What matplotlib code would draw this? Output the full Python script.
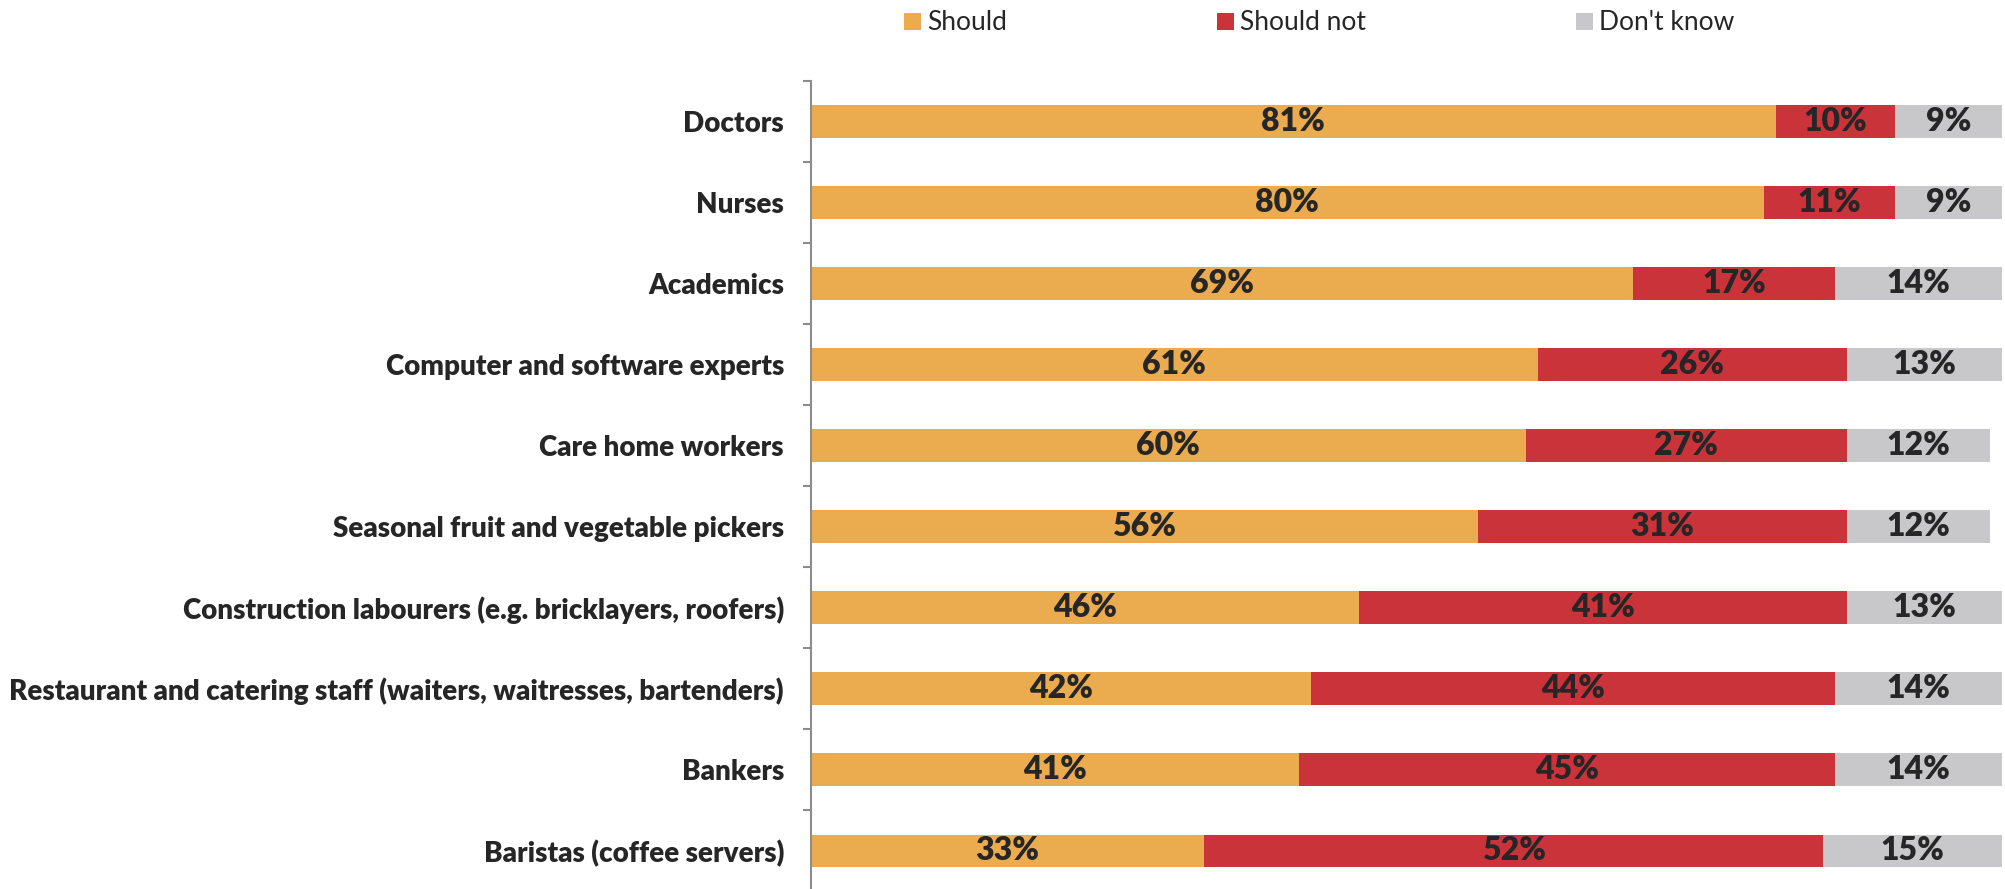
import numpy as np
import matplotlib.pyplot as plt
from matplotlib.patches import Patch

occupations = [
    "Doctors",
    "Nurses",
    "Academics",
    "Computer and software experts",
    "Care home workers",
    "Seasonal fruit and vegetable pickers",
    "Construction labourers (e.g. bricklayers, roofers)",
    "Restaurant and catering staff (waiters, waitresses, bartenders)",
    "Bankers",
    "Baristas (coffee servers)",
]
should = [81, 80, 69, 61, 60, 56, 46, 42, 41, 33]
should_not = [10, 11, 17, 26, 27, 31, 41, 44, 45, 52]
dont_know = [9, 9, 14, 13, 12, 12, 13, 14, 14, 15]

series_names = ["Should", "Should not", "Don't know"]
colors = ["#EBAB4F", "#CB333B", "#C8C8CA"]
TEXT = "#262626"

plt.rcParams['font.family'] = ['Lato', 'DejaVu Sans']

fig = plt.figure(figsize=(20.06, 8.89), dpi=100)
ax = fig.add_axes([811 / 2006, -0.0025, (2002 - 811) / 2006, 0.9114])

y = np.arange(len(occupations))
left = np.zeros(len(occupations))
for vals, name, col in zip([should, should_not, dont_know], series_names, colors):
    vals = np.array(vals, dtype=float)
    ax.barh(y, vals, left=left, height=0.4, color=col, label=name)
    for yi, l, v in zip(y, left, vals):
        ax.text(l + v / 2, yi, f"{int(v)}%", ha="center", va="center",
                fontsize=23, fontweight="heavy", color=TEXT)
    left += vals

ax.set_xlim(0, 100)
ax.set_ylim(len(occupations) - 0.5, -0.5)

ax.set_yticks(y)
ax.set_yticklabels(occupations, fontsize=20, fontweight="heavy", color=TEXT)
ax.tick_params(axis="y", which="major", length=0, pad=19.5)
ax.set_yticks(np.arange(len(occupations) + 1) - 0.5, minor=True)
ax.tick_params(axis="y", which="minor", length=6, width=1.5, color="#8C8C8C")
ax.set_xticks([])

for s in ["top", "right", "bottom"]:
    ax.spines[s].set_visible(False)
ax.spines["left"].set_color("#8C8C8C")
ax.spines["left"].set_linewidth(1.5)

handles = [Patch(facecolor=c, edgecolor="none") for c in colors]
fig.legend(handles, series_names, loc="center left", bbox_to_anchor=(904 / 2006, 1 - 23 / 889),
           ncol=3, frameon=False, fontsize=19, handlelength=0.63, handleheight=0.63,
           handletextpad=0.25, columnspacing=7.95, borderaxespad=0, borderpad=0,
           labelcolor=TEXT)

fig.savefig("out.png", dpi=100)
